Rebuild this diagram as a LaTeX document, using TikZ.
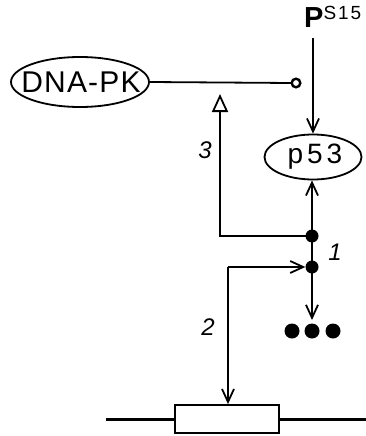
\documentclass[tikz,border=0pt]{standalone}
\usepackage{fontspec}
\setmainfont{Liberation Sans}
\usetikzlibrary{shapes.geometric,arrows.meta}
\tikzset{
  oval/.style={draw,ellipse,line width=1.8pt,inner sep=0pt},
  conn/.style={line width=1.8pt},
  barb/.style={conn,-{Straight Barb[length=13pt,width=12pt,line width=1.8pt]}},
  opentri/.style={conn,-{Triangle[open,length=18pt,width=16pt,line width=1.8pt]}},
  bigdot/.style={circle,fill=black,inner sep=0pt,minimum size=13pt},
  numlab/.style={font=\fontsize{24}{24}\selectfont\itshape,inner sep=0pt}
}
\begin{document}
\begin{tikzpicture}[x=1pt,y=-1pt]
\useasboundingbox (0,0) rectangle (366,436);
% nodes
\node[oval,minimum width=138pt,minimum height=50pt,
  label={[font=\fontsize{30}{30}\selectfont\addfontfeature{LetterSpace=4},xshift=1pt]center:DNA-PK}] (dnapk) at (80,82) {};
\node[oval,minimum width=97pt,minimum height=45pt,
  label={[font=\fontsize{28}{28}\selectfont\addfontfeature{LetterSpace=14},xshift=2pt]center:p53}] (p53) at (313,157) {};
\node[inner sep=0pt,anchor=base west] (P) at (304,28) {\fontsize{29}{29}\selectfont\bfseries P\raisebox{9pt}{\fontsize{19}{19}\mdseries\selectfont\addfontfeature{LetterSpace=10}S15}};
\node[bigdot] (d1) at (312,236) {};
\node[bigdot] (d2) at (312,267) {};
\node[bigdot,minimum size=15pt] (e1) at (292,331) {};
\node[bigdot,minimum size=15pt] (e2) at (312,331) {};
\node[bigdot,minimum size=15pt] (e3) at (333,331) {};
\node[draw,line width=1.8pt,minimum width=104pt,minimum height=28pt,inner sep=0pt] (gene) at (227,419) {};
\node[numlab] (l3) at (205,150) {3};
\node[numlab] (l1) at (335,252) {1};
\node[numlab] (l2) at (208,327) {2};
% coordinates
\coordinate (circ) at (296,83);
\coordinate (ptop) at (313,38);
\coordinate (c3) at (220,236);
\coordinate (c3tip) at (220,94);
\coordinate (c2) at (228,267);
\coordinate (down) at (312,320);
\coordinate (gl) at (106,419);
\coordinate (gr) at (366,419);
% connectors
\draw[conn] (dnapk.east) -- ([xshift=-4.5pt]circ);
\draw[line width=2.4pt] (circ) circle (4.3pt);
\draw[barb] (ptop) -- (ptop |- p53.north);
\draw[opentri] (d1.center) -- (c3) -- (c3tip);
\draw[barb] (d1.center) -- (d1 |- p53.south);
\draw[conn] (d1.center) -- (d2.center);
\draw[barb] (c2) -- (d2.west);
\draw[barb] (c2) -- (c2 |- gene.north);
\draw[barb] (d2.center) -- (down);
\draw[line width=3pt] (gl) -- (gene.west);
\draw[line width=3pt] (gene.east) -- (gr);
\end{tikzpicture}
\end{document}
